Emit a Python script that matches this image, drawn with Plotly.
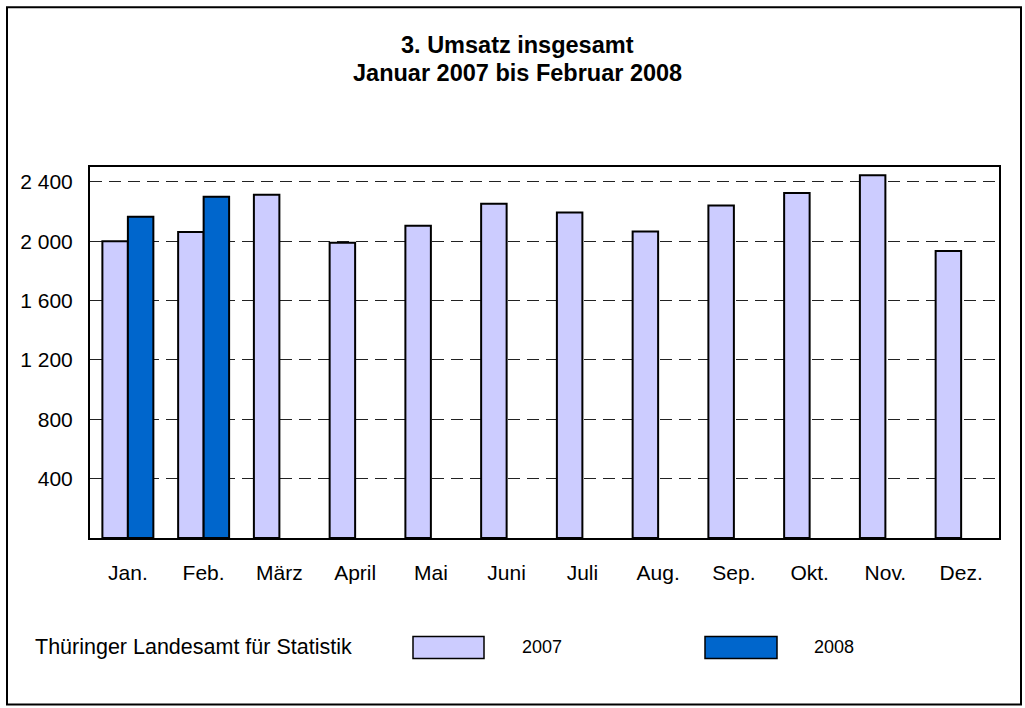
import plotly.graph_objects as go

months = ["Jan.", "Feb.", "März", "April", "Mai", "Juni", "Juli", "Aug.", "Sep.", "Okt.", "Nov.", "Dez."]
values_2007 = [2000, 2062, 2313, 1990, 2104, 2252, 2194, 2066, 2241, 2324, 2445, 1934]
values_2008 = [2165, 2300, None, None, None, None, None, None, None, None, None, None]
y_tickvals = [400, 800, 1200, 1600, 2000, 2400]
y_ticktext = ["400", "800", "1 200", "1 600", "2 000", "2 400"]

W, H = 1025, 708
L, R, T, B = 90, 999, 167, 538.4
FONT = "Liberation Sans, Arial, sans-serif"


def px(x):
    return (x - L) / (R - L)


def py(y):
    return (B - y) / (B - T)


fig = go.Figure()
fig.add_trace(go.Bar(x=months, y=values_2007, name="2007",
                     marker=dict(color="#CCCCFF", line=dict(color="#000000", width=2))))
fig.add_trace(go.Bar(x=months, y=values_2008, name="2008",
                     marker=dict(color="#0066CC", line=dict(color="#000000", width=2))))

shapes = [
    dict(type="rect", xref="paper", yref="paper", x0=px(7), x1=px(1021), y0=py(705), y1=py(7),
         line=dict(color="#000000", width=2), fillcolor="rgba(0,0,0,0)", layer="below"),
    dict(type="rect", xref="paper", yref="paper", x0=px(413), x1=px(484), y0=py(659), y1=py(637),
         line=dict(color="#000000", width=1.5), fillcolor="#CCCCFF"),
    dict(type="rect", xref="paper", yref="paper", x0=px(705), x1=px(777), y0=py(659), y1=py(637),
         line=dict(color="#000000", width=1.5), fillcolor="#0066CC"),
]

annotations = [
    dict(text="<b>3. Umsatz insgesamt</b>", x=px(517), y=py(45), xref="paper", yref="paper",
         showarrow=False, xanchor="center", yanchor="middle", font=dict(size=23.5, color="#000000", family=FONT)),
    dict(text="<b>Januar 2007 bis Februar 2008</b>", x=px(517), y=py(73), xref="paper", yref="paper",
         showarrow=False, xanchor="center", yanchor="middle", font=dict(size=23.5, color="#000000", family=FONT)),
    dict(text="Thüringer Landesamt für Statistik", x=px(33), y=py(648), xref="paper", yref="paper",
         showarrow=False, xanchor="left", yanchor="middle", font=dict(size=21.5, color="#000000", family=FONT)),
    dict(text="2007", x=px(520), y=py(648), xref="paper", yref="paper",
         showarrow=False, xanchor="left", yanchor="middle", font=dict(size=18, color="#000000", family=FONT)),
    dict(text="2008", x=px(812), y=py(648), xref="paper", yref="paper",
         showarrow=False, xanchor="left", yanchor="middle", font=dict(size=18, color="#000000", family=FONT)),
]

fig.update_layout(
    width=W, height=H,
    margin=dict(l=L, r=W - R, t=T, b=H - B, pad=0),
    paper_bgcolor="#FFFFFF", plot_bgcolor="#FFFFFF",
    barmode="group", bargap=0.327, bargroupgap=0,
    showlegend=False,
    shapes=shapes, annotations=annotations,
    font=dict(family=FONT, color="#000000"),
)
fig.update_xaxes(showline=True, linecolor="#000000", linewidth=2, mirror=True,
                 showgrid=False, ticks="", ticklabelstandoff=15,
                 tickfont=dict(size=21, family=FONT, color="#000000"))
fig.update_yaxes(range=[0, 2500], tickvals=y_tickvals, ticktext=y_ticktext,
                 showline=True, linecolor="#000000", linewidth=2, mirror=True,
                 showgrid=True, gridcolor="#222222", gridwidth=1, griddash="12px,7px",
                 zeroline=False, ticks="", ticklabelstandoff=11,
                 tickfont=dict(size=21, family=FONT, color="#000000"))

fig.write_html(
    "out.html",
    config={"displayModeBar": False},
    post_script="document.body.style.margin='0';document.body.style.overflow='hidden';",
)
